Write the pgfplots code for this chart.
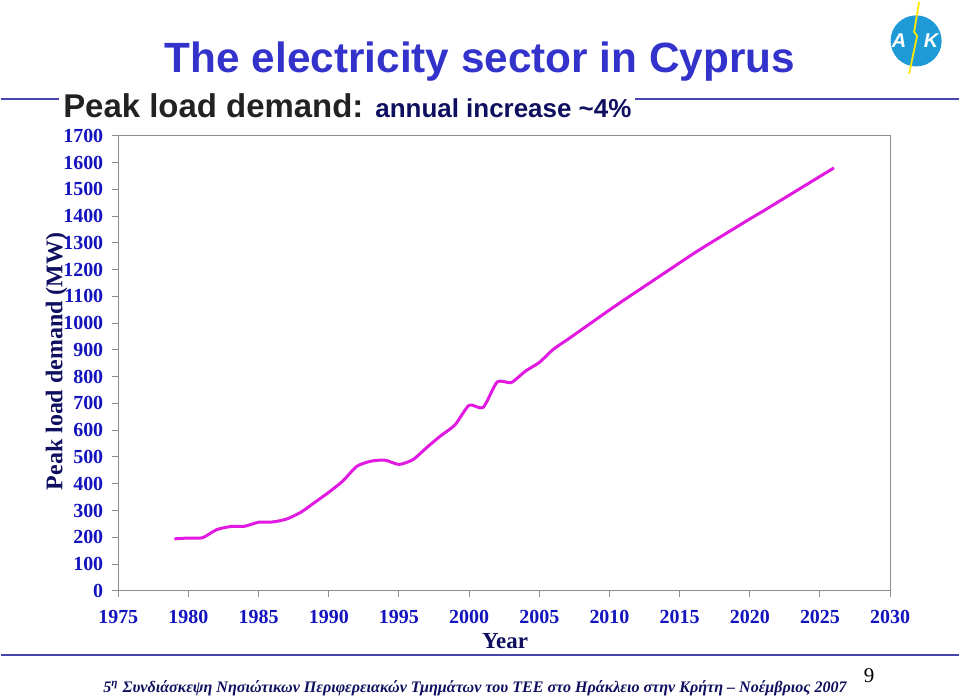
\documentclass[border=0pt]{standalone}
\usepackage{fontspec}
\setmainfont{Liberation Serif}
\newfontfamily\arial{Liberation Sans}
\usepackage{pgfplots}
\pgfplotsset{compat=1.18}
\definecolor{titleblue}{RGB}{51,51,204}
\definecolor{tickblue}{RGB}{20,20,190}
\definecolor{navy}{RGB}{15,15,95}
\definecolor{linemag}{RGB}{225,25,225}
\definecolor{rule}{RGB}{70,70,170}
\definecolor{logoblue}{RGB}{30,155,215}
\begin{document}
\begin{tikzpicture}[x=1pt,y=1pt]
\path (0pt,0pt) rectangle (480pt,350pt);
% rules
\draw[rule, line width=1pt] (0pt,300.5pt) -- (480pt,300.5pt);
\draw[rule, line width=1pt] (0pt,22pt) -- (480pt,22pt);
% titles
\node[anchor=base, text=titleblue, font=\arial\bfseries\fontsize{21.2}{24}\selectfont, inner sep=0pt] at (240pt,313.5pt) {The electricity sector in Cyprus};
\node[anchor=base west, fill=white, inner sep=2pt, font=\arial\bfseries] at (29pt,291pt) {{\fontsize{16.5}{20}\selectfont\color[RGB]{34,34,34}Peak load demand:}\hspace{6pt}{\fontsize{13}{15}\selectfont\color{navy}annual increase \textasciitilde4\%}};
% logo
\fill[logoblue] (458.5pt,329.5pt) circle (12.8pt);
\draw[yellow!90!orange, line width=0.9pt] (460pt,349pt) -- (457.5pt,334pt) -- (459pt,332pt) -- (455pt,313pt);
\node[text=white, font=\arial\bfseries\itshape\fontsize{10}{10}\selectfont, inner sep=0pt] at (450pt,329.5pt) {A};
\node[text=white, font=\arial\bfseries\itshape\fontsize{10}{10}\selectfont, inner sep=0pt] at (466pt,329.5pt) {K};
% footer
\node[anchor=base, text=navy, font=\bfseries\itshape\fontsize{8.05}{10}\selectfont, inner sep=0pt] at (237.5pt,3pt) {5\textsuperscript{η} Συνδιάσκεψη Νησιώτικων Περιφερειακών Τμημάτων του ΤΕΕ στο Ηράκλειο στην Κρήτη -- Νοέμβριος 2007};
\node[anchor=base, font=\fontsize{10.5}{12}\selectfont, inner sep=0pt] at (435pt,8pt) {9};
\begin{axis}[
  at={(58.75pt,54pt)}, anchor=south west,
  width=386.75pt, height=228pt, scale only axis,
  xmin=1975, xmax=2030, ymin=0, ymax=1700,
  xtick={1975,1980,...,2030}, ytick={0,100,...,1700},
  /pgf/number format/assume math mode=true,
  /pgf/number format/1000 sep={},
  tick label style={font=\bfseries\fontsize{10}{12}\selectfont, text=tickblue},
  axis line style={draw=black!45, line width=0.5pt},
  tick style={draw=black!45, line width=0.5pt},
  tick align=outside, major tick length=3pt,
  xtick pos=bottom, ytick pos=left,
  xticklabel style={yshift=-3pt},
  yticklabel style={xshift=-1pt},
  xlabel={Year},
  xlabel style={at={(axis description cs:0.501,-0.127)}, anchor=base, font=\bfseries\fontsize{11.5}{13}\selectfont, text=navy, inner sep=0pt},
  ylabel={Peak load demand (MW)},
  ylabel style={at={(axis description cs:-0.08,0.504)}, anchor=center, font=\bfseries\fontsize{12}{14}\selectfont, text=navy, inner sep=0pt},
  clip=false,
]
\addplot[linemag, line width=1.5pt, smooth, tension=0.4] coordinates {
(1979,194) (1980,197) (1981,198) (1982,228) (1983,240) (1984,241) (1985,256)
(1986,257) (1987,268) (1988,293) (1989,330) (1990,368) (1991,410) (1992,465)
(1993,484) (1994,488) (1995,472) (1996,490) (1997,536) (1998,580) (1999,620)
(2000,693) (2001,685) (2002,780) (2003,778) (2004,820) (2005,853) (2006,902)
(2007,938) (2008,975) (2009,1012) (2010,1049) (2011,1085) (2012,1120) (2013,1155)
(2014,1190) (2015,1225) (2016,1260) (2017,1293) (2018,1325) (2019,1357) (2020,1389)
(2021,1420) (2022,1452) (2023,1484) (2024,1516) (2025,1548) (2026,1580)
};
\end{axis}
\end{tikzpicture}
\end{document}
